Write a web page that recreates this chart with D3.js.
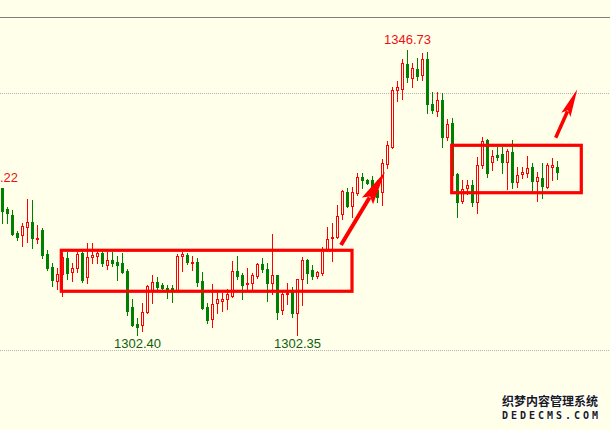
<!DOCTYPE html>
<html>
<head>
<meta charset="utf-8">
<script src="https://cdn.jsdelivr.net/npm/d3@7/dist/d3.min.js"></script>
<style>
  html, body { margin: 0; padding: 0; background: #ffffea; }
  svg { display: block; }
</style>
</head>
<body>
<script>
// ---- data ----
const opens = [1325.21,1321.95,1321.01,1318.26,1317.85,1319.19,1319.97,1317.28,1318.68,1314.94,
1312.87,1310.79,1311.83,1314.27,1312.09,1312.72,1315.14,1311.31,1314.52,1314.68,
1315.14,1313.23,1314.01,1313.74,1313.49,1312.34,1306.74,1304.00,1303.89,1305.87,
1309.34,1310.63,1310.12,1309.70,1309.70,1309.34,1314.63,1314.79,1313.49,1313.74,
1310.74,1306.74,1304.78,1307.27,1307.67,1307.89,1308.45,1312.30,1311.67,1310.27,
1310.47,1311.52,1313.39,1312.61,1310.38,1311.60,1306.23,1308.67,1309.07,1305.71,
1311.00,1314.01,1312.45,1311.56,1311.94,1315.67,1317.38,1317.54,1321.12,1324.64,
1322.41,1324.44,1326.88,1326.46,1326.46,1324.90,1324.59,1328.95,1331.64,1340.47,
1340.57,1344.51,1342.29,1343.69,1342.80,1345.24,1338.29,1337.20,1338.91,1333.20,
1335.28,1327.39,1323.19,1325.17,1325.68,1323.08,1328.79,1332.68,1329.31,1330.35,
1330.51,1329.31,1330.77,1326.19,1327.35,1327.60,1328.44,1326.35,1326.72,1325.42,
1328.53,1328.44];
const highs = [1325.26,1322.30,1321.79,1318.52,1319.81,1323.45,1323.35,1319.41,1318.94,1315.56,
1313.49,1312.72,1315.14,1315.30,1313.49,1315.30,1315.56,1316.70,1316.61,1315.56,
1315.56,1315.56,1315.30,1314.63,1315.05,1312.56,1307.89,1304.93,1307.27,1310.12,
1311.67,1311.41,1310.47,1310.12,1310.12,1314.94,1315.30,1315.14,1314.63,1314.27,
1312.19,1307.27,1310.27,1309.07,1308.92,1309.45,1313.85,1314.63,1312.03,1312.72,
1311.94,1313.49,1314.27,1313.49,1318.01,1311.67,1309.07,1310.47,1309.85,1311.05,
1314.43,1314.09,1313.23,1312.34,1316.08,1319.10,1319.72,1322.57,1324.90,1325.17,
1325.42,1327.50,1327.50,1326.61,1327.08,1326.46,1329.73,1332.53,1340.98,1341.91,
1345.24,1346.73,1344.72,1345.40,1346.18,1346.43,1340.20,1340.20,1339.95,1335.91,
1336.06,1327.50,1326.46,1326.46,1326.46,1329.99,1333.10,1332.79,1331.13,1331.55,
1331.55,1331.24,1332.68,1328.44,1328.44,1330.19,1329.06,1327.75,1329.06,1329.15,
1329.84,1329.46];
const lows = [1319.72,1319.72,1317.90,1317.12,1316.19,1316.86,1315.92,1316.61,1314.27,1312.45,
1309.96,1309.45,1308.40,1311.00,1310.79,1312.19,1310.63,1310.47,1313.59,1313.59,
1313.07,1312.56,1313.07,1310.89,1312.03,1305.45,1303.74,1302.40,1303.00,1305.71,
1307.27,1309.45,1309.34,1308.05,1307.52,1309.23,1312.34,1313.39,1312.45,1309.96,
1306.33,1304.16,1303.53,1305.81,1306.12,1306.33,1308.30,1311.00,1307.94,1309.34,
1309.34,1311.16,1312.19,1307.67,1308.67,1304.78,1305.56,1307.16,1305.18,1302.35,
1307.00,1310.38,1311.00,1311.16,1311.67,1315.46,1313.90,1317.38,1320.34,1322.21,
1320.75,1324.12,1325.17,1325.76,1324.12,1323.08,1322.57,1328.28,1331.44,1338.80,
1339.02,1341.76,1340.98,1342.02,1342.02,1336.84,1336.84,1336.42,1331.64,1332.68,
1326.93,1320.75,1322.83,1324.28,1322.41,1321.37,1328.28,1326.88,1328.02,1329.57,
1327.50,1325.01,1325.17,1325.42,1326.72,1326.97,1324.64,1323.24,1323.61,1325.17,
1326.46,1326.57];
const closes = [1321.63,1321.28,1318.05,1317.63,1319.30,1319.97,1317.48,1317.48,1314.79,1312.72,
1310.89,1311.83,1314.43,1311.94,1312.81,1314.94,1310.89,1314.52,1314.79,1315.05,
1313.49,1314.01,1313.59,1313.23,1312.19,1306.07,1303.89,1303.63,1305.87,1309.96,
1310.54,1309.76,1309.60,1309.49,1309.34,1314.63,1314.89,1313.74,1313.74,1310.63,
1306.58,1304.67,1307.16,1307.89,1307.89,1308.72,1312.30,1311.56,1310.12,1310.47,
1311.67,1313.34,1312.56,1310.38,1311.67,1305.96,1308.72,1308.92,1305.71,1311.00,
1314.01,1312.03,1311.52,1312.09,1315.56,1317.23,1317.54,1320.86,1324.79,1322.41,
1324.64,1326.88,1326.46,1325.94,1324.90,1323.86,1329.06,1331.91,1340.47,1340.89,
1344.62,1342.44,1343.84,1342.65,1345.24,1338.29,1337.35,1338.91,1333.20,1335.13,
1327.24,1323.08,1325.01,1325.68,1323.08,1328.79,1332.58,1327.50,1330.19,1330.09,
1329.31,1330.97,1326.19,1327.24,1327.70,1328.28,1326.35,1326.88,1325.57,1328.79,
1328.79,1327.75];

// horizontal grid levels
const gridLevels = [1300, 1340];

// high / low price labels (bar index, value, kind)
const labelIdx = [-1.6, 81, 27, 59];
const labelVal = [1325.22, 1346.73, 1302.40, 1302.35];
const labelKind = ["high", "high", "low", "low"];

// annotation boxes (bar index range, price range)
const boxIdxFrom = [11.76, 89.84];
const boxIdxTo = [69.9, 115.76];
const boxPriceLow = [1309.14, 1324.48];
const boxPriceHigh = [1315.52, 1331.86];

// annotation arrows (bar index / price of tail and tip)
const arrowFromIdx = [67.7, 110.64];
const arrowFromPrice = [1316.34, 1333.04];
const arrowToIdx = [76.5, 114.96];
const arrowToPrice = [1327.75, 1340.58];

const watermarkCN = "织梦内容管理系统";
const watermarkEN = "DEDECMS.COM";

// ---- drawing ----
const W = 610, H = 430;
const BG = "#ffffea", UP = "#ff0000", DOWN = "#008000";
const plotTop = 17;

const bars = opens.map((o, i) => ({ i, o, h: highs[i], l: lows[i], c: closes[i] }));

const x = d3.scaleLinear().domain([0, bars.length - 1]).range([2.5, 2.5 + 5 * (bars.length - 1)]);
const y = d3.scaleLinear().domain([1300, 1340]).range([350, 93]);

const svg = d3.select("body").append("svg").attr("width", W).attr("height", H);
svg.append("rect").attr("width", W).attr("height", H).attr("fill", BG);

// top frame line
svg.append("line").attr("x1", 0).attr("x2", W).attr("y1", plotTop + 0.5).attr("y2", plotTop + 0.5)
  .attr("stroke", "#808080").attr("stroke-width", 1).attr("shape-rendering", "crispEdges");

// dotted grid lines
svg.append("g").selectAll("line").data(gridLevels).join("line")
  .attr("x1", 0).attr("x2", W)
  .attr("y1", d => Math.round(y(d)) + 0.5).attr("y2", d => Math.round(y(d)) + 0.5)
  .attr("stroke", "#b4b4b4").attr("stroke-width", 1).attr("stroke-dasharray", "1,1")
  .attr("shape-rendering", "crispEdges");

// candles
const g = svg.append("g").attr("shape-rendering", "crispEdges");
const cg = g.selectAll("g").data(bars).join("g");
cg.append("line")
  .attr("x1", d => Math.round(x(d.i) - 0.5) + 0.5).attr("x2", d => Math.round(x(d.i) - 0.5) + 0.5)
  .attr("y1", d => Math.round(y(d.h))).attr("y2", d => Math.round(y(d.l)) + 1)
  .attr("stroke", d => d.c >= d.o ? UP : DOWN).attr("stroke-width", 1);

cg.each(function (d) {
  const sel = d3.select(this);
  const cx = Math.round(x(d.i) - 0.5) + 0.5;
  const top = Math.round(y(Math.max(d.o, d.c)));
  const bot = Math.round(y(Math.min(d.o, d.c)));
  if (d.c >= d.o) {
    sel.append("rect")
      .attr("x", cx - 1).attr("width", 2)
      .attr("y", top + 0.5).attr("height", Math.max(1, bot - top))
      .attr("fill", BG).attr("stroke", UP).attr("stroke-width", 1);
  } else {
    sel.append("rect")
      .attr("x", cx - 1.5).attr("width", 3)
      .attr("y", top).attr("height", Math.max(1, bot - top + 1))
      .attr("fill", DOWN);
  }
});

// boxes
svg.append("g").selectAll("rect").data(boxIdxFrom.map((v, k) => k)).join("rect")
  .attr("x", k => x(boxIdxFrom[k]))
  .attr("y", k => y(boxPriceHigh[k]))
  .attr("width", k => x(boxIdxTo[k]) - x(boxIdxFrom[k]))
  .attr("height", k => y(boxPriceLow[k]) - y(boxPriceHigh[k]))
  .attr("fill", "none").attr("stroke", "#ff0000").attr("stroke-width", 3.2);

// arrows
const arrowStyle = [{ head: 34, hw: 6.5, sw: 4 }, { head: 28, hw: 5, sw: 3.5 }];
const ag = svg.append("g");
arrowFromIdx.forEach((v, k) => {
  const x0 = x(arrowFromIdx[k]), y0 = y(arrowFromPrice[k]);
  const x1 = x(arrowToIdx[k]), y1 = y(arrowToPrice[k]);
  const len = Math.hypot(x1 - x0, y1 - y0);
  const ux = (x1 - x0) / len, uy = (y1 - y0) / len;
  const nx = -uy, ny = ux;
  const s = arrowStyle[k];
  const bx = x1 - ux * s.head, by = y1 - uy * s.head;
  ag.append("line")
    .attr("x1", x0).attr("y1", y0).attr("x2", bx + ux * 4).attr("y2", by + uy * 4)
    .attr("stroke", "#ff0000").attr("stroke-width", s.sw);
  ag.append("path")
    .attr("d", `M${x1},${y1} L${bx + nx * s.hw},${by + ny * s.hw} L${bx + ux * 5},${by + uy * 5} L${bx - nx * s.hw},${by - ny * s.hw} Z`)
    .attr("fill", "#ff0000");
});

// high/low labels
svg.append("g").selectAll("text").data(labelIdx.map((v, k) => k)).join("text")
  .attr("x", k => x(labelIdx[k]))
  .attr("y", k => labelKind[k] === "high" ? y(labelVal[k]) - 6 : y(labelVal[k]) + 13.5)
  .attr("text-anchor", "middle")
  .attr("font-family", "'Liberation Sans', Arial, sans-serif")
  .attr("font-size", 13)
  .attr("fill", k => labelKind[k] === "high" ? "#ee1111" : "#0f5f10")
  .text(k => labelVal[k].toFixed(2));

// watermark
const wm = svg.append("g");
wm.append("text")
  .attr("x", 502).attr("y", 406)
  .attr("font-family", "'Noto Sans CJK SC', sans-serif").attr("font-weight", "bold")
  .attr("font-size", 12).attr("textLength", 96).attr("lengthAdjust", "spacingAndGlyphs")
  .attr("fill", "#1a1a1a").attr("stroke", "#ffffff").attr("stroke-width", 2.5)
  .attr("paint-order", "stroke").attr("stroke-linejoin", "round")
  .text(watermarkCN);
wm.append("text")
  .attr("x", 502).attr("y", 418.5)
  .attr("font-family", "'DejaVu Sans Mono', monospace").attr("font-weight", "bold")
  .attr("font-size", 10).attr("textLength", 96).attr("lengthAdjust", "spacing")
  .attr("fill", "#1a1a1a").attr("stroke", "#ffffff").attr("stroke-width", 2.5)
  .attr("paint-order", "stroke").attr("stroke-linejoin", "round")
  .text(watermarkEN);
</script>
</body>
</html>
